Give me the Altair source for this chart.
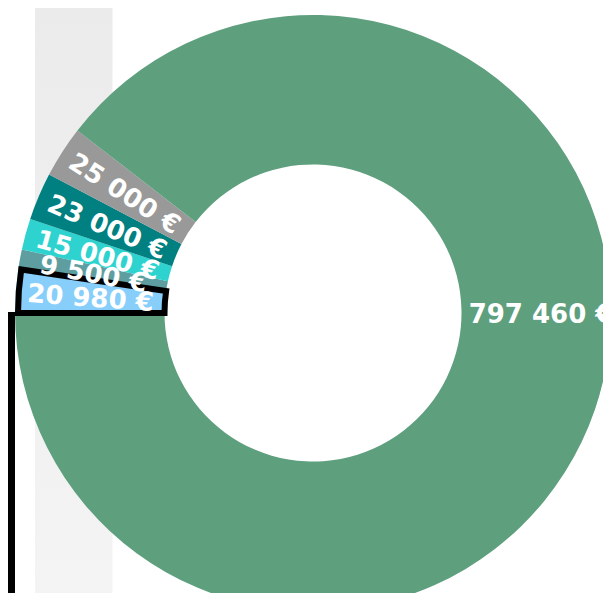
import altair as alt
import pandas as pd
import math

# ---- data ----
values = [20980, 9500, 15000, 23000, 25000, 797460]
colors = ["#87cefa", "#5f9ea0", "#2ed3cf", "#008080", "#999999", "#5e9f7e"]
highlighted = [True, False, False, False, False, False]
orders = [1, 2, 3, 4, 5, 6]

texts = [f"{v:,}".replace(",", " ") + " €" for v in values]
keys = [f"s{i}" for i in range(len(values))]

df = pd.DataFrame({
    "key": keys,
    "value": values,
    "txt": texts,
    "hl": highlighted,
    "ord": orders,
})

CX, CY = 305, 305
R_IN, R_OUT = 148.5, 298
start_off = 3 * math.pi / 2

base = alt.Chart(df).transform_joinaggregate(
    total="sum(value)"
).transform_window(
    cum="sum(value)", sort=[alt.SortField("ord", order="ascending")], frame=[None, 0]
).transform_calculate(
    start=f"{start_off} + (datum.cum - datum.value) / datum.total * 2 * PI",
    end=f"{start_off} + datum.cum / datum.total * 2 * PI",
).transform_calculate(
    mid="(datum.start + datum.end) / 2",
    big="datum.value / datum.total > 0.5",
).transform_calculate(
    lab_theta="datum.big ? PI / 2 : datum.mid",
    lab_r="datum.big ? 228 : 223",
    rot=f"datum.big ? 0 : (datum.mid - {start_off}) * 180 / PI",
)

color_enc = alt.Color("key:N", scale=alt.Scale(domain=keys, range=colors), legend=None)

arcs = base.mark_arc(innerRadius=R_IN, outerRadius=R_OUT).encode(
    theta=alt.Theta("start:Q", scale=None, stack=False),
    theta2=alt.Theta2("end:Q"),
    color=color_enc,
    x=alt.value(CX),
    y=alt.value(CY),
)

hl = base.transform_filter("datum.hl").mark_arc(
    innerRadius=R_IN, outerRadius=295, stroke="black", strokeWidth=6
).encode(
    theta=alt.Theta("start:Q", scale=None, stack=False),
    theta2=alt.Theta2("end:Q"),
    color=color_enc,
    x=alt.value(CX),
    y=alt.value(CY),
)

labels = base.mark_text(
    font="DejaVu Sans", fontSize=26, fontWeight="bold", color="white",
    align="center", baseline="middle", dy=2
).encode(
    theta=alt.Theta("lab_theta:Q", scale=None, stack=False),
    radius=alt.Radius("lab_r:Q", scale=None),
    angle=alt.Angle("rot:Q", scale=None),
    text="txt:N",
    x=alt.value(CX),
    y=alt.value(CY),
)

one = pd.DataFrame({"a": [0]})
band = alt.Chart(one).mark_rect(
    color=alt.Gradient(
        gradient="linear",
        stops=[alt.GradientStop(color="#ebebeb", offset=0),
               alt.GradientStop(color="#f4f4f4", offset=1)],
        x1=0, x2=0, y1=0, y2=1,
    )
).encode(x=alt.value(27), x2=alt.value(104.5), y=alt.value(0), y2=alt.value(600))

rule = alt.Chart(one).mark_rule(color="black", strokeWidth=7).encode(
    x=alt.value(3.5), y=alt.value(304), y2=alt.value(600)
)

chart = alt.layer(band, arcs, hl, rule, labels).properties(
    width=595, height=585,
    autosize=alt.AutoSizeParams(type="none"),
    padding=0,
).configure_view(stroke=None)

chart.save("out.html", embed_options={"renderer": "svg", "actions": False})
